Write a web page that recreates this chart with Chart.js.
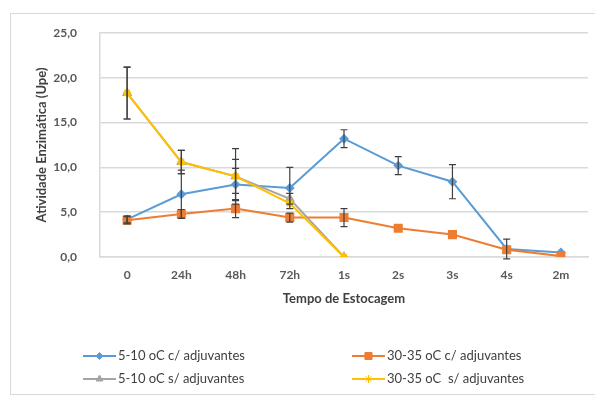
<!DOCTYPE html>
<html>
<head>
<meta charset="utf-8">
<script src="https://cdn.jsdelivr.net/npm/chart.js@4"></script>
<style>
  html, body { margin: 0; padding: 0; background: #fff; }
  #frame { position: absolute; left: 10px; top: 13px; width: 600px; height: 380px;
           border-left: 1.5px solid #d9d9d9; border-top: 1.5px solid #d9d9d9; border-bottom: 1.5px solid #d9d9d9; }
  #wrap { position: absolute; left: 0; top: 0; width: 595px; height: 395px; }
</style>
</head>
<body>
<div id="frame"></div>
<div id="wrap"><canvas id="chart"></canvas></div>
<script>
var labels = ['0', '24h', '48h', '72h', '1s', '2s', '3s', '4s', '2m'];

var frioCom = [4.2, 7.0, 8.1, 7.7, 13.2, 10.2, 8.4, 0.9, 0.5];
var frioComErr = [0.4, 2.7, 1.8, 2.3, 1.0, 1.0, 1.9, 1.1, 0];

var quenteCom = [4.1, 4.8, 5.4, 4.4, 4.4, 3.2, 2.5, 0.8, 0.1];
var quenteComErr = [0.4, 0.5, 1.0, 0.5, 1.0, 0, 0, 0, 0];

var frioSem = [18.3, 10.6, 9.0, 6.5, 0];
var frioSemErr = [2.9, 1.3, 3.1, 0.6, 0];

var quenteSem = [18.3, 10.6, 9.0, 6.0, 0];
var quenteSemErr = [2.9, 1.3, 1.9, 0, 0];

var legendRows = [
    { ds: 0, x: 83, y: 356 },
    { ds: 1, x: 352, y: 356 },
    { ds: 2, x: 83, y: 379 },
    { ds: 3, x: 352, y: 379 }
];

var errorBars = {
    id: 'errorBars',
    afterDatasetsDraw: function (chart) {
        var ctx = chart.ctx;
        var yScale = chart.scales.y;
        ctx.save();
        ctx.strokeStyle = '#404040';
        ctx.lineWidth = 1.2;
        chart.data.datasets.forEach(function (ds, i) {
            var meta = chart.getDatasetMeta(i);
            ds.errors.forEach(function (e, j) {
                if (!e || ds.data[j] == null) return;
                var x = meta.data[j].x;
                var top = yScale.getPixelForValue(ds.data[j] + e);
                var bot = yScale.getPixelForValue(ds.data[j] - e);
                ctx.beginPath();
                ctx.moveTo(x, top); ctx.lineTo(x, bot);
                ctx.moveTo(x - 3.5, top); ctx.lineTo(x + 3.5, top);
                ctx.moveTo(x - 3.5, bot); ctx.lineTo(x + 3.5, bot);
                ctx.stroke();
            });
        });
        ctx.restore();
    }
};

var excelLegend = {
    id: 'excelLegend',
    afterDraw: function (chart) {
        var ctx = chart.ctx;
        ctx.save();
        legendRows.forEach(function (row) {
            var ds = chart.data.datasets[row.ds];
            ctx.strokeStyle = ds.borderColor;
            ctx.lineWidth = 2;
            ctx.beginPath();
            ctx.moveTo(row.x, row.y);
            ctx.lineTo(row.x + 33, row.y);
            ctx.stroke();
            ctx.fillStyle = ds.pointBackgroundColor;
            ctx.strokeStyle = ds.borderColor;
            ctx.lineWidth = 1;
            Chart.helpers.drawPoint(ctx, {
                pointStyle: ds.pointStyle,
                radius: ds.pointRadius,
                rotation: 0,
                borderWidth: 1
            }, row.x + 16.5, row.y);
            ctx.fillStyle = '#404040';
            ctx.font = '13px Lato';
            ctx.textBaseline = 'middle';
            ctx.fillText(ds.label, row.x + 35, row.y);
        });
        ctx.restore();
    }
};

function serie(label, data, errors, color, style, radius, order) {
    return {
        label: label,
        data: data,
        errors: errors,
        order: order,
        borderColor: color,
        backgroundColor: color,
        pointBackgroundColor: color,
        pointBorderColor: color,
        pointStyle: style,
        pointRadius: radius,
        borderWidth: 2,
        tension: 0
    };
}

new Chart(document.getElementById('chart'), {
    type: 'line',
    data: {
        labels: labels,
        datasets: [
            serie('5-10 oC c/ adjuvantes', frioCom, frioComErr, '#5B9BD5', 'rectRot', 3.5, 4),
            serie('30-35 oC c/ adjuvantes', quenteCom, quenteComErr, '#ED7D31', 'rect', 5, 3),
            serie('5-10 oC s/ adjuvantes', frioSem, frioSemErr, '#A5A5A5', 'triangle', 4, 2),
            serie('30-35 oC  s/ adjuvantes', quenteSem, quenteSemErr, '#FFC000', 'star', 4, 1)
        ]
    },
    options: {
        responsive: true,
        maintainAspectRatio: false,
        animation: false,
        layout: { padding: { left: 20, right: 5, top: 33, bottom: 88 } },
        plugins: {
            legend: { display: false },
            tooltip: { enabled: false }
        },
        scales: {
            x: {
                offset: true,
                grid: { display: false, drawTicks: false },
                border: { color: '#d9d9d9', width: 1.5 },
                ticks: { color: '#595959', font: { family: 'Lato', size: 12, weight: 'bold' }, padding: 10.5 },
                title: {
                    display: true, text: 'Tempo de Estocagem', color: '#404040',
                    font: { family: 'Lato', size: 13, weight: 'bold' }, padding: { top: -1, bottom: 0 }
                }
            },
            y: {
                min: 0, max: 25,
                afterFit: function (scale) { scale.width = 80; },
                grid: { color: '#d9d9d9', lineWidth: 1.5, drawTicks: false },
                border: { color: '#d9d9d9', width: 1.5 },
                ticks: {
                    stepSize: 5, padding: 23, color: '#595959',
                    font: { family: 'Lato', size: 12, weight: 'bold' },
                    callback: function (v) { return v.toFixed(1).replace('.', ','); }
                },
                title: {
                    display: true, text: 'Atividade Enzimática (Upe)', color: '#404040',
                    font: { family: 'Lato', size: 13, weight: 'bold' }, padding: { top: 14, bottom: 0 }
                }
            }
        }
    },
    plugins: [errorBars, excelLegend]
});
</script>
</body>
</html>
